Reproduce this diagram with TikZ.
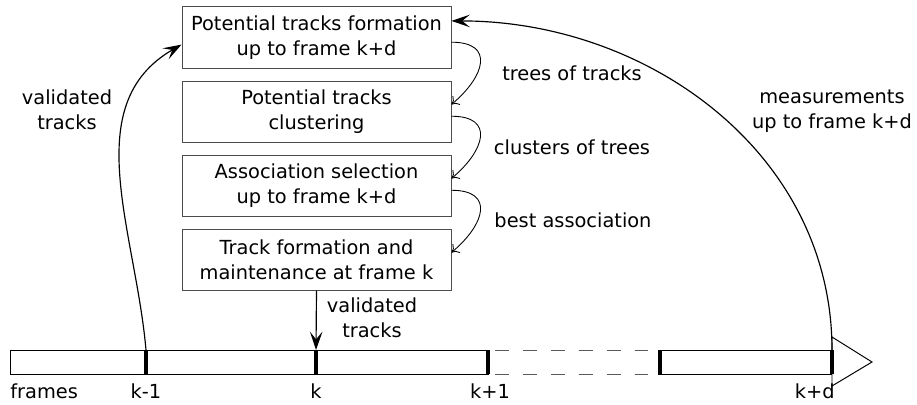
\documentclass[tikz,border=0pt]{standalone}
\usepackage{fontspec}
\setmainfont{DejaVu Sans}
\usetikzlibrary{arrows.meta,positioning}

\tikzset{
	stage/.style={draw=black!70,line width=0.5pt,minimum width=138.8pt,minimum height=31.5pt,inner sep=0pt,align=center,font=\fontsize{10}{13}\selectfont},
	lbl/.style={inner sep=0pt,align=center,font=\fontsize{10}{13}\selectfont},
	flow/.style={line width=0.6pt,-{Stealth[length=9.5pt,width=6.5pt,inset=4pt]}},
	hop/.style={line width=0.45pt,-{To[length=3.5pt,width=6pt]}},
	frametick/.style={line width=2pt},
	bar/.style={line width=0.5pt}
}

\begin{document}
	\begin{tikzpicture}[x=0.516pt,y=0.516pt]
		\useasboundingbox (0,0) rectangle (917,-405);
		
		\node[stage] (F1) at (316.5,-37.5) {Potential tracks formation\\up to frame k+d};
		\node[stage,below=6.2pt of F1] (F2) {Potential tracks\\clustering};
		\node[stage,below=6.2pt of F2] (F3) {Association selection\\up to frame k+d};
		\node[stage,below=6.2pt of F3] (F4) {Track formation and\\maintenance at frame k};
		
		%\draw[help lines] (0,0) grid (917,-405);
		\draw[bar] (10,-350) rectangle (488,-374);
		\draw[bar,black!65,dash pattern=on 7.2pt off 7.2pt,dash phase=10.8pt] (488,-350) -- (658,-350) (488,-374) -- (658,-374);
		\draw[bar] (658,-350) rectangle (832,-374);
		\draw[bar,fill=white] (832,-337) -- (872,-362) -- (832,-386) -- cycle;
		
		\coordinate (T1) at (146,-350);
		\coordinate (Tk) at (316,-350);
		\coordinate (T2) at (488,-350);
		\coordinate (T3) at (660,-350);
		\coordinate (Td) at (832,-350);
		\foreach \t in {T1,Tk,T2,T3,Td}
			\draw[frametick] (\t) -- ++(0,-24);
		
		\node[lbl,anchor=base west] (frames) at (10,-398.5) {frames};
		\node[lbl,anchor=base] (L1) at (146,-398.5) {k-1};
		\node[lbl,anchor=base] (Lk) at (316,-398.5) {k};
		\node[lbl,anchor=base] (L2) at (490,-398.5) {k+1};
		\node[lbl,anchor=base east] (Ld) at (835,-398.5) {k+d};
		
		\draw[hop] (F1.-2) to[out=0,in=40,looseness=1.8] (F2.3);
		\draw[hop] (F2.-2) to[out=0,in=40,looseness=1.8] (F3.3);
		\draw[hop] (F3.-2) to[out=0,in=40,looseness=1.8] (F4.3);
		\node[lbl] (trees) at (572,-73) {trees of tracks};
		\node[lbl] (clusters) at (572,-147) {clusters of trees};
		\node[lbl] (best) at (573,-220) {best association};
		
		\draw[flow] (T1) to[out=95,in=210] (F1.183);
		\node[lbl] (valL) at (67,-110) {validated\\tracks};
		\draw[flow] (Td) to[out=90,in=0] (F1.7);
		\node[lbl] (meas) at (832,-111) {measurements\\up to frame k+d};
		\draw[flow] (F4.south) -- (Tk);
		\node[lbl] (valK) at (372,-318) {validated\\tracks};
	\end{tikzpicture}
\end{document}
